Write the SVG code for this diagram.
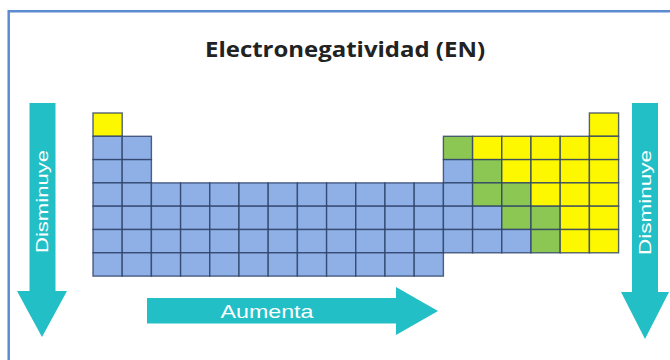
<svg xmlns="http://www.w3.org/2000/svg" width="670" height="360" viewBox="0 0 670 360">
<style>
.b{fill:#8fb0e6}
.y{fill:#fdf700}
.g{fill:#8cc653}
#table rect{stroke:#2a3f66;stroke-opacity:0.8;stroke-width:1.4}
.arrow{fill:#22bfc6}
.lbl{font-family:"Liberation Sans",Arial,sans-serif;fill:#ffffff}
.title{font-family:"Open Sans","Liberation Sans",sans-serif;font-weight:700;fill:#222222}
</style>
<rect x="0" y="0" width="670" height="360" fill="#ffffff"/>
<g id="frame" fill="none" stroke="#5b8bd0" stroke-width="2.5">
<line x1="8.7" y1="11.3" x2="670" y2="11.3"/>
<line x1="8.7" y1="10" x2="8.7" y2="360"/>
</g>
<g id="title"><text class="title" x="345" y="56.5" font-size="22" text-anchor="middle" textLength="280" lengthAdjust="spacingAndGlyphs">Electronegatividad (EN)</text></g>
<g id="table">
<!-- row 1 -->
<rect class="y" x="93" y="113" width="29.2" height="23.3"/>
<rect class="y" x="589.4" y="113" width="29.2" height="23.3"/>
<!-- row 2 -->
<rect class="b" x="93" y="136.3" width="29.2" height="23.3"/>
<rect class="b" x="122.2" y="136.3" width="29.2" height="23.3"/>
<rect class="g" x="443.4" y="136.3" width="29.2" height="23.3"/>
<rect class="y" x="472.6" y="136.3" width="29.2" height="23.3"/>
<rect class="y" x="501.8" y="136.3" width="29.2" height="23.3"/>
<rect class="y" x="531" y="136.3" width="29.2" height="23.3"/>
<rect class="y" x="560.2" y="136.3" width="29.2" height="23.3"/>
<rect class="y" x="589.4" y="136.3" width="29.2" height="23.3"/>
<!-- row 3 -->
<rect class="b" x="93" y="159.6" width="29.2" height="23.3"/>
<rect class="b" x="122.2" y="159.6" width="29.2" height="23.3"/>
<rect class="b" x="443.4" y="159.6" width="29.2" height="23.3"/>
<rect class="g" x="472.6" y="159.6" width="29.2" height="23.3"/>
<rect class="y" x="501.8" y="159.6" width="29.2" height="23.3"/>
<rect class="y" x="531" y="159.6" width="29.2" height="23.3"/>
<rect class="y" x="560.2" y="159.6" width="29.2" height="23.3"/>
<rect class="y" x="589.4" y="159.6" width="29.2" height="23.3"/>
<!-- row 4 -->
<rect class="b" x="93" y="182.9" width="29.2" height="23.3"/>
<rect class="b" x="122.2" y="182.9" width="29.2" height="23.3"/>
<rect class="b" x="151.4" y="182.9" width="29.2" height="23.3"/>
<rect class="b" x="180.6" y="182.9" width="29.2" height="23.3"/>
<rect class="b" x="209.8" y="182.9" width="29.2" height="23.3"/>
<rect class="b" x="239" y="182.9" width="29.2" height="23.3"/>
<rect class="b" x="268.2" y="182.9" width="29.2" height="23.3"/>
<rect class="b" x="297.4" y="182.9" width="29.2" height="23.3"/>
<rect class="b" x="326.6" y="182.9" width="29.2" height="23.3"/>
<rect class="b" x="355.8" y="182.9" width="29.2" height="23.3"/>
<rect class="b" x="385" y="182.9" width="29.2" height="23.3"/>
<rect class="b" x="414.2" y="182.9" width="29.2" height="23.3"/>
<rect class="b" x="443.4" y="182.9" width="29.2" height="23.3"/>
<rect class="g" x="472.6" y="182.9" width="29.2" height="23.3"/>
<rect class="g" x="501.8" y="182.9" width="29.2" height="23.3"/>
<rect class="y" x="531" y="182.9" width="29.2" height="23.3"/>
<rect class="y" x="560.2" y="182.9" width="29.2" height="23.3"/>
<rect class="y" x="589.4" y="182.9" width="29.2" height="23.3"/>
<!-- row 5 -->
<rect class="b" x="93" y="206.2" width="29.2" height="23.3"/>
<rect class="b" x="122.2" y="206.2" width="29.2" height="23.3"/>
<rect class="b" x="151.4" y="206.2" width="29.2" height="23.3"/>
<rect class="b" x="180.6" y="206.2" width="29.2" height="23.3"/>
<rect class="b" x="209.8" y="206.2" width="29.2" height="23.3"/>
<rect class="b" x="239" y="206.2" width="29.2" height="23.3"/>
<rect class="b" x="268.2" y="206.2" width="29.2" height="23.3"/>
<rect class="b" x="297.4" y="206.2" width="29.2" height="23.3"/>
<rect class="b" x="326.6" y="206.2" width="29.2" height="23.3"/>
<rect class="b" x="355.8" y="206.2" width="29.2" height="23.3"/>
<rect class="b" x="385" y="206.2" width="29.2" height="23.3"/>
<rect class="b" x="414.2" y="206.2" width="29.2" height="23.3"/>
<rect class="b" x="443.4" y="206.2" width="29.2" height="23.3"/>
<rect class="b" x="472.6" y="206.2" width="29.2" height="23.3"/>
<rect class="g" x="501.8" y="206.2" width="29.2" height="23.3"/>
<rect class="g" x="531" y="206.2" width="29.2" height="23.3"/>
<rect class="y" x="560.2" y="206.2" width="29.2" height="23.3"/>
<rect class="y" x="589.4" y="206.2" width="29.2" height="23.3"/>
<!-- row 6 -->
<rect class="b" x="93" y="229.5" width="29.2" height="23.3"/>
<rect class="b" x="122.2" y="229.5" width="29.2" height="23.3"/>
<rect class="b" x="151.4" y="229.5" width="29.2" height="23.3"/>
<rect class="b" x="180.6" y="229.5" width="29.2" height="23.3"/>
<rect class="b" x="209.8" y="229.5" width="29.2" height="23.3"/>
<rect class="b" x="239" y="229.5" width="29.2" height="23.3"/>
<rect class="b" x="268.2" y="229.5" width="29.2" height="23.3"/>
<rect class="b" x="297.4" y="229.5" width="29.2" height="23.3"/>
<rect class="b" x="326.6" y="229.5" width="29.2" height="23.3"/>
<rect class="b" x="355.8" y="229.5" width="29.2" height="23.3"/>
<rect class="b" x="385" y="229.5" width="29.2" height="23.3"/>
<rect class="b" x="414.2" y="229.5" width="29.2" height="23.3"/>
<rect class="b" x="443.4" y="229.5" width="29.2" height="23.3"/>
<rect class="b" x="472.6" y="229.5" width="29.2" height="23.3"/>
<rect class="b" x="501.8" y="229.5" width="29.2" height="23.3"/>
<rect class="g" x="531" y="229.5" width="29.2" height="23.3"/>
<rect class="y" x="560.2" y="229.5" width="29.2" height="23.3"/>
<rect class="y" x="589.4" y="229.5" width="29.2" height="23.3"/>
<!-- row 7 -->
<rect class="b" x="93" y="252.8" width="29.2" height="23.3"/>
<rect class="b" x="122.2" y="252.8" width="29.2" height="23.3"/>
<rect class="b" x="151.4" y="252.8" width="29.2" height="23.3"/>
<rect class="b" x="180.6" y="252.8" width="29.2" height="23.3"/>
<rect class="b" x="209.8" y="252.8" width="29.2" height="23.3"/>
<rect class="b" x="239" y="252.8" width="29.2" height="23.3"/>
<rect class="b" x="268.2" y="252.8" width="29.2" height="23.3"/>
<rect class="b" x="297.4" y="252.8" width="29.2" height="23.3"/>
<rect class="b" x="326.6" y="252.8" width="29.2" height="23.3"/>
<rect class="b" x="355.8" y="252.8" width="29.2" height="23.3"/>
<rect class="b" x="385" y="252.8" width="29.2" height="23.3"/>
<rect class="b" x="414.2" y="252.8" width="29.2" height="23.3"/>
</g>
<g id="arrow-left">
<polygon class="arrow" points="29.5,103 55.5,103 55.5,291 67,291 42,337 17,291 29.5,291"/>
<text class="lbl" transform="translate(48,201.5) rotate(-90)" x="0" y="0" font-size="17" text-anchor="middle" textLength="103" lengthAdjust="spacingAndGlyphs">Disminuye</text>
</g>
<g id="arrow-right">
<polygon class="arrow" points="632,103 658,103 658,292 669,292 645,339 621,292 632,292"/>
<text class="lbl" transform="translate(651,202.5) rotate(-90)" x="0" y="0" font-size="17" text-anchor="middle" textLength="105" lengthAdjust="spacingAndGlyphs">Disminuye</text>
</g>
<g id="arrow-bottom">
<polygon class="arrow" points="147,298 396,298 396,287 438,311 396,335 396,323.5 147,323.5"/>
<text class="lbl" x="267" y="318" font-size="19" text-anchor="middle" textLength="93" lengthAdjust="spacingAndGlyphs">Aumenta</text>
</g>
</svg>
